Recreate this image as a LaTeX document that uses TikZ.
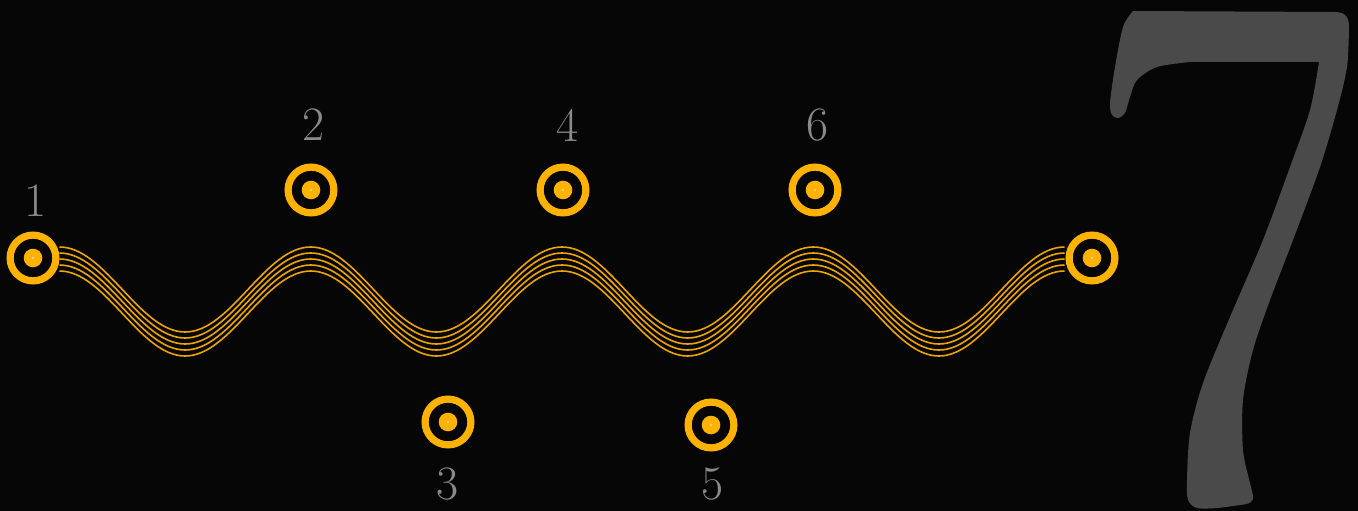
\documentclass[tikz,border=0pt]{standalone}
\definecolor{bgc}{HTML}{060606}
\definecolor{ringc}{HTML}{FFB300}
\definecolor{wavec}{HTML}{EBA400}
\definecolor{sevenc}{HTML}{4A4A4A}
\definecolor{labc}{HTML}{8A8A8A}
\tikzset{
  ringnode/.style={circle, draw=ringc, line width=7.2pt, minimum size=45.8pt, inner sep=0pt,
    path picture={\fill[ringc] (path picture bounding box.center) circle (9.3pt);
                  \fill[white!60!ringc] (path picture bounding box.center) circle (1.1pt);}},
  digit/.style={text=labc, inner sep=0pt, font=\fontsize{48}{48}\selectfont},
  waveline/.style={draw=wavec, line width=1.6pt},
  sevenshape/.style={fill=sevenc}
}
\begin{document}
\begin{tikzpicture}[x=1pt,y=-1pt]
\fill[bgc] (0,0) rectangle (1358,511);
\useasboundingbox (0,0) rectangle (1358,511);
% big seven
\fill[sevenshape] (1133,11) -- (1335,12)
  .. controls (1346,12) and (1349,18) .. (1349,27)
  -- plot[smooth] coordinates {(1349,27) (1347,67) (1337,110) (1320,167) (1293,240) (1270,300) (1253,350) (1243,400) (1243,450) (1250,483) (1253,495)}
  .. controls (1254,502) and (1250,504) .. (1240,505)
  -- plot[smooth] coordinates {(1240,505) (1217,508) (1197,508) (1188,500) (1187,480) (1190,433) (1203,383) (1230,317) (1263,240) (1290,167) (1310,110) (1319,62)}
  -- (1190,62)
  -- plot[smooth] coordinates {(1190,62) (1157,67) (1137,80) (1130,97) (1125,113) (1118,118) (1112,115) (1110,103) (1115,67) (1123,27) (1133,11)}
  -- cycle;
% nodes
\node[ringnode] (n1) at (33,258) {};
\node[ringnode] (n2) at (311,190) {};
\node[ringnode] (n3) at (448,422) {};
\node[ringnode] (n4) at (563,190) {};
\node[ringnode] (n5) at (711,425) {};
\node[ringnode] (n6) at (815,190) {};
\node[ringnode] (n7) at (1092,258) {};
% labels
\node[digit] (l1) at (36,201) {1};
\node[digit] (l2) at (314,125) {2};
\node[digit] (l3) at (448,484) {3};
\node[digit] (l4) at (568,125) {4};
\node[digit] (l5) at (713,484) {5};
\node[digit] (l6) at (818,125) {6};
% wave connector
\foreach \s in {11,5,-1,-7,-13}{
  \draw[waveline] ([yshift=\s pt]n1.east)
    \foreach \i in {1,...,4}{
      cos ++(62.8125,42.5) sin ++(62.8125,42.5) cos ++(62.8125,-42.5) sin ++(62.8125,-42.5)
    };
}
\end{tikzpicture}
\end{document}
